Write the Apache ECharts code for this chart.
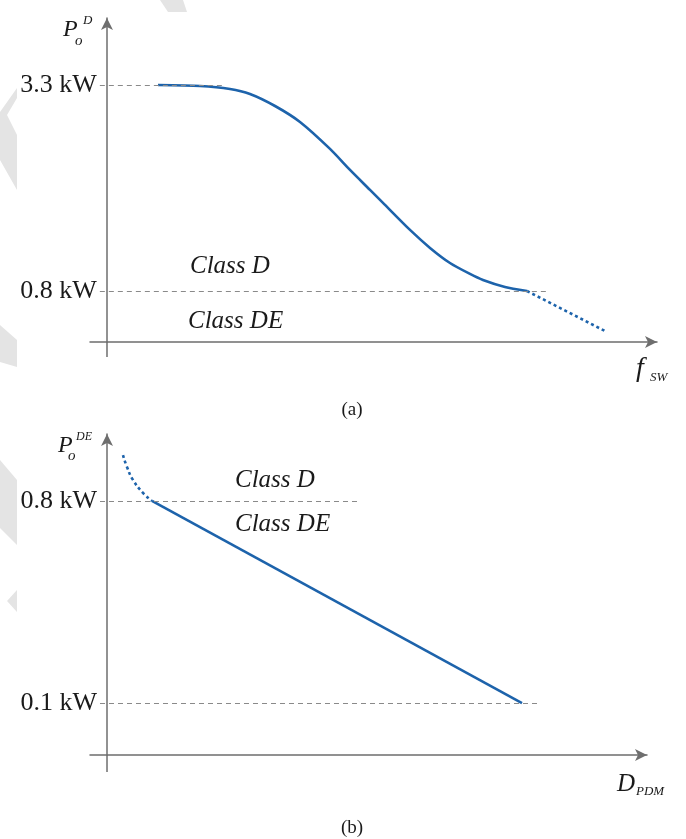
<!DOCTYPE html>
<html><head><meta charset="utf-8">
<script src="https://cdn.jsdelivr.net/npm/echarts@6/dist/echarts.min.js"></script>
<style>html,body{margin:0;padding:0;background:#fff}#c{width:686px;height:839px}</style>
</head><body><div id="c"></div>
<script>
// ---- data (schematic units: x normalised 0..100, y in kW) ----
const topSolidX = [9.27, 16.91, 22.36, 26.00, 30.55, 35.09, 40.55, 44.18, 47.82, 50.18, 55.09, 58.73, 62.36, 66.00, 68.36, 72.36, 76.36];
const topSolidY = [3.300, 3.288, 3.252, 3.191, 3.045, 2.851, 2.524, 2.269, 2.027, 1.869, 1.541, 1.323, 1.140, 1.007, 0.934, 0.849, 0.800];
const topDotX = [76.36, 90.9];
const topDotY = [0.8, 0.302];
const botDotX = [2.96, 3.70, 4.81, 6.67, 8.33];
const botDotY = [0.959, 0.918, 0.873, 0.828, 0.8];
const botSolidX = [8.33, 76.85];
const botSolidY = [0.8, 0.1];
const topLevels = [3.3, 0.8];
const topLevelEnds = [21.5, 80];
const botLevels = [0.8, 0.1];
const botLevelEnds = [46.3, 80.2];
const levelStart = -1.3;

const pairs = (xs, ys) => xs.map((x, i) => [x, ys[i]]);
const serif = '"Liberation Serif","DejaVu Serif",serif';
const blue = '#1d63ab';
const axisCol = '#6e6e6e';

function levelLines(levels, ends) {
  return levels.map((v, i) => [
    {coord: [levelStart, v], label: {formatter: v.toFixed(1) + ' kW'}},
    {coord: [ends[i], v]}
  ]);
}
const markLineBase = {
  silent: true, symbol: ['none', 'none'],
  lineStyle: {color: '#8a8a8a', width: 1, type: [5, 4]},
  label: {position: 'start', distance: 3, color: '#1a1a1a', fontSize: 26, fontFamily: serif}
};

function axisX(grid, min, max) {
  return {type: 'value', gridIndex: grid, min, max,
    axisLine: {show: true, onZero: false, symbol: ['none', 'arrow'], symbolSize: [9, 12],
      lineStyle: {color: axisCol, width: 1.5}},
    axisTick: {show: false}, axisLabel: {show: false}, splitLine: {show: false}};
}
function axisY(grid, min, max) {
  return {type: 'value', gridIndex: grid, min, max,
    axisLine: {show: true, onZero: true, symbol: ['none', 'arrow'], symbolSize: [9, 12],
      lineStyle: {color: axisCol, width: 1.5}},
    axisTick: {show: false}, axisLabel: {show: false}, splitLine: {show: false}};
}

const chart = echarts.init(document.getElementById('c'), null, {renderer: 'canvas'});
const topYMin = 0.181, topYMax = 4.113;
const botYMin = -0.080, botYMax = 1.032;

function txt(x, y, text, size, opts) {
  return Object.assign({type: 'text', x, y, silent: true,
    style: Object.assign({text, fill: '#1a1a1a', font: 'italic ' + size + 'px ' + serif,
      textAlign: 'left', textVerticalAlign: 'middle', align: 'left', verticalAlign: 'middle'}, opts || {})});
}

chart.setOption({
  animation: false,
  grid: [
    {left: 90, right: 29, top: 18, bottom: 497},
    {left: 90, right: 39, top: 434, bottom: 84}
  ],
  xAxis: [axisX(0, -3.09, 100), axisX(1, -3.15, 100)],
  yAxis: [axisY(0, topYMin, topYMax), axisY(1, botYMin, botYMax)],
  series: [
    {type: 'line', xAxisIndex: 0, yAxisIndex: 0, data: pairs(topSolidX, topSolidY),
      smooth: 0.25, showSymbol: false, lineStyle: {color: blue, width: 2.6},
      markLine: Object.assign({}, markLineBase, {data: levelLines(topLevels, topLevelEnds)})},
    {type: 'line', xAxisIndex: 0, yAxisIndex: 0, data: pairs(topDotX, topDotY),
      showSymbol: false, lineStyle: {color: blue, width: 2.6, type: [3, 3]}},
    {type: 'line', xAxisIndex: 1, yAxisIndex: 1, data: pairs(botDotX, botDotY),
      smooth: 0.5, showSymbol: false, lineStyle: {color: blue, width: 2.6, type: [3, 3]},
      markLine: Object.assign({}, markLineBase, {data: levelLines(botLevels, botLevelEnds)})},
    {type: 'line', xAxisIndex: 1, yAxisIndex: 1, data: pairs(botSolidX, botSolidY),
      showSymbol: false, lineStyle: {color: blue, width: 2.6}}
  ]
});

const p0 = chart.convertToPixel({gridIndex: 0}, [0, topYMin]);
const p1 = chart.convertToPixel({gridIndex: 1}, [0, botYMin]);
const wm = '#e4e4e4';
chart.setOption({
  graphic: [
    {type: 'line', silent: true, shape: {x1: p0[0], y1: p0[1], x2: p0[0], y2: p0[1] + 15}, style: {stroke: axisCol, lineWidth: 1.5}},
    {type: 'line', silent: true, shape: {x1: p1[0], y1: p1[1], x2: p1[0], y2: p1[1] + 17}, style: {stroke: axisCol, lineWidth: 1.5}},
    // faint watermark shapes along the left edge
    {type: 'polygon', silent: true, z: -1, shape: {points: [[17, 88], [17, 98], [7, 115], [17, 135], [17, 190], [0, 160], [0, 112]]}, style: {fill: wm}},
    {type: 'polygon', silent: true, z: -1, shape: {points: [[0, 325], [17, 340], [17, 367], [0, 362]]}, style: {fill: wm}},
    {type: 'polygon', silent: true, z: -1, shape: {points: [[0, 460], [17, 480], [17, 545], [0, 528]]}, style: {fill: wm}},
    {type: 'polygon', silent: true, z: -1, shape: {points: [[17, 590], [17, 612], [7, 601]]}, style: {fill: wm}},
    {type: 'polygon', silent: true, z: -1, shape: {points: [[160, 0], [183, 0], [187, 12], [168, 12]]}, style: {fill: wm}},
    // axis names
    txt(63, 30, 'P', 24), txt(83, 21, 'D', 13), txt(75, 41, 'o', 15),
    txt(58, 446, 'P', 24), txt(76, 437, 'DE', 12), txt(68, 456, 'o', 15),
    txt(636, 369, 'f', 28), txt(650, 378, 'SW', 13),
    txt(617, 784, 'D', 25), txt(636, 792, 'PDM', 13),
    // region labels
    txt(190, 266, 'Class D', 25), txt(188, 321, 'Class DE', 25),
    txt(235, 480, 'Class D', 25), txt(235, 524, 'Class DE', 25),
    // captions
    txt(352, 410, '(a)', 19, {font: '19px ' + serif, textAlign: 'center', align: 'center'}),
    txt(352, 828, '(b)', 19, {font: '19px ' + serif, textAlign: 'center', align: 'center'})
  ]
});
</script></body></html>
